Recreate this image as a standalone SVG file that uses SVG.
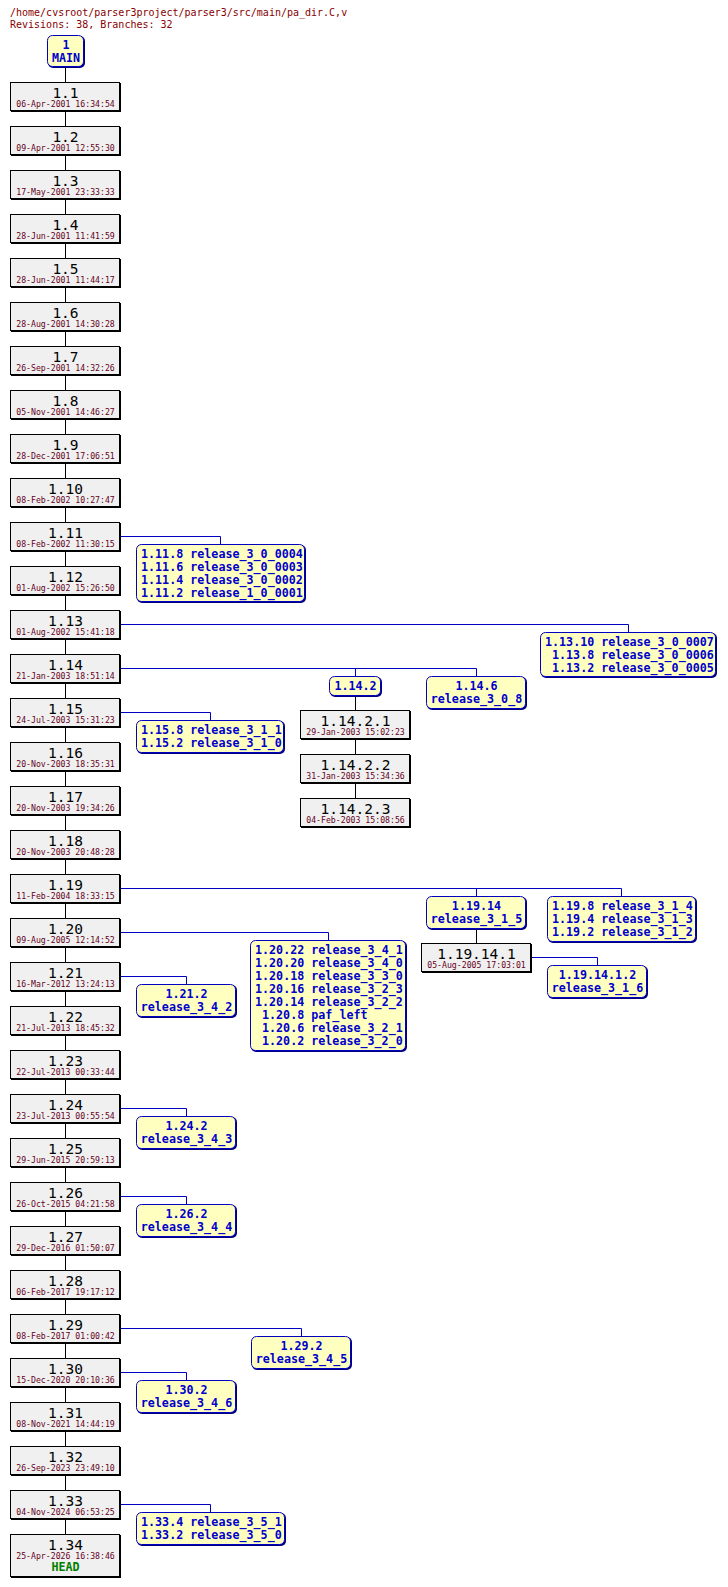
<svg xmlns="http://www.w3.org/2000/svg" width="728" height="1587" viewBox="0 0 728 1587">
<style>
.sh{fill:#000}
.bx{fill:#f0f0f0;stroke:#000;stroke-width:1}
.bsh{fill:#000080}
.bb{fill:#ffffc0;stroke:#0000c0;stroke-width:1}
.rn{font-family:"DejaVu Sans Mono",monospace;font-size:14.5px;fill:#000;text-anchor:middle}
.dt{font-family:"DejaVu Sans Mono",monospace;font-size:8.2px;fill:#660022;text-anchor:middle}
.bl{font-family:"DejaVu Sans Mono",monospace;font-size:11.7px;font-weight:bold;fill:#0000cc}
.c{text-anchor:middle}
.hd{font-family:"DejaVu Sans Mono",monospace;font-size:11.7px;font-weight:bold;fill:#008000;text-anchor:middle}
.ti{font-family:"DejaVu Sans Mono",monospace;font-size:10px;fill:#880000}
.tr{stroke:#000;stroke-width:1;fill:none}
.bc{stroke:#0000c0;stroke-width:1;fill:none}
</style>
<g id="title">
<text class="ti" x="10" y="16">/home/cvsroot/parser3project/parser3/src/main/pa_dir.C,v</text>
<text class="ti" x="10" y="28">Revisions: 38, Branches: 32</text>
</g>
<g id="connectors">
<path class="tr" d="M65.5,68V1534"/>
<path class="tr" d="M355.5,696V798"/>
<path class="tr" d="M476.5,929V943"/>
<path class="bc" d="M120,536.5H220.5V544"/>
<path class="bc" d="M120,624.5H628.5V632"/>
<path class="bc" d="M120,668.5H476.5V676M355.5,668.5V676"/>
<path class="bc" d="M120,712.5H210.5V720"/>
<path class="bc" d="M120,888.5H621.5V896M476.5,888.5V896"/>
<path class="bc" d="M531,957.5H597.5V965"/>
<path class="bc" d="M120,932.5H328.5V940"/>
<path class="bc" d="M120,976.5H186.5V984"/>
<path class="bc" d="M120,1108.5H186.5V1116"/>
<path class="bc" d="M120,1196.5H186.5V1204"/>
<path class="bc" d="M120,1328.5H301.5V1336"/>
<path class="bc" d="M120,1372.5H186.5V1380"/>
<path class="bc" d="M120,1504.5H210.5V1512"/>
</g>
<g id="main"><rect class="bsh" x="48" y="36" width="37" height="32" rx="5"/><rect class="bb" x="47.5" y="35.5" width="36" height="31" rx="5"/><text class="bl c" x="66" y="49">1</text><text class="bl c" x="66" y="62">MAIN</text></g>
<g id="r1_1"><rect class="sh" x="11" y="83" width="110" height="29"/><rect class="bx" x="10.5" y="82.5" width="109" height="28"/><text class="rn" x="65.5" y="97.5">1.1</text><text class="dt" x="65.5" y="107">06-Apr-2001 16:34:54</text></g>
<g id="r1_2"><rect class="sh" x="11" y="127" width="110" height="29"/><rect class="bx" x="10.5" y="126.5" width="109" height="28"/><text class="rn" x="65.5" y="141.5">1.2</text><text class="dt" x="65.5" y="151">09-Apr-2001 12:55:30</text></g>
<g id="r1_3"><rect class="sh" x="11" y="171" width="110" height="29"/><rect class="bx" x="10.5" y="170.5" width="109" height="28"/><text class="rn" x="65.5" y="185.5">1.3</text><text class="dt" x="65.5" y="195">17-May-2001 23:33:33</text></g>
<g id="r1_4"><rect class="sh" x="11" y="215" width="110" height="29"/><rect class="bx" x="10.5" y="214.5" width="109" height="28"/><text class="rn" x="65.5" y="229.5">1.4</text><text class="dt" x="65.5" y="239">28-Jun-2001 11:41:59</text></g>
<g id="r1_5"><rect class="sh" x="11" y="259" width="110" height="29"/><rect class="bx" x="10.5" y="258.5" width="109" height="28"/><text class="rn" x="65.5" y="273.5">1.5</text><text class="dt" x="65.5" y="283">28-Jun-2001 11:44:17</text></g>
<g id="r1_6"><rect class="sh" x="11" y="303" width="110" height="29"/><rect class="bx" x="10.5" y="302.5" width="109" height="28"/><text class="rn" x="65.5" y="317.5">1.6</text><text class="dt" x="65.5" y="327">28-Aug-2001 14:30:28</text></g>
<g id="r1_7"><rect class="sh" x="11" y="347" width="110" height="29"/><rect class="bx" x="10.5" y="346.5" width="109" height="28"/><text class="rn" x="65.5" y="361.5">1.7</text><text class="dt" x="65.5" y="371">26-Sep-2001 14:32:26</text></g>
<g id="r1_8"><rect class="sh" x="11" y="391" width="110" height="29"/><rect class="bx" x="10.5" y="390.5" width="109" height="28"/><text class="rn" x="65.5" y="405.5">1.8</text><text class="dt" x="65.5" y="415">05-Nov-2001 14:46:27</text></g>
<g id="r1_9"><rect class="sh" x="11" y="435" width="110" height="29"/><rect class="bx" x="10.5" y="434.5" width="109" height="28"/><text class="rn" x="65.5" y="449.5">1.9</text><text class="dt" x="65.5" y="459">28-Dec-2001 17:06:51</text></g>
<g id="r1_10"><rect class="sh" x="11" y="479" width="110" height="29"/><rect class="bx" x="10.5" y="478.5" width="109" height="28"/><text class="rn" x="65.5" y="493.5">1.10</text><text class="dt" x="65.5" y="503">08-Feb-2002 10:27:47</text></g>
<g id="r1_11"><rect class="sh" x="11" y="523" width="110" height="29"/><rect class="bx" x="10.5" y="522.5" width="109" height="28"/><text class="rn" x="65.5" y="537.5">1.11</text><text class="dt" x="65.5" y="547">08-Feb-2002 11:30:15</text></g>
<g id="r1_12"><rect class="sh" x="11" y="567" width="110" height="29"/><rect class="bx" x="10.5" y="566.5" width="109" height="28"/><text class="rn" x="65.5" y="581.5">1.12</text><text class="dt" x="65.5" y="591">01-Aug-2002 15:26:50</text></g>
<g id="r1_13"><rect class="sh" x="11" y="611" width="110" height="29"/><rect class="bx" x="10.5" y="610.5" width="109" height="28"/><text class="rn" x="65.5" y="625.5">1.13</text><text class="dt" x="65.5" y="635">01-Aug-2002 15:41:18</text></g>
<g id="r1_14"><rect class="sh" x="11" y="655" width="110" height="29"/><rect class="bx" x="10.5" y="654.5" width="109" height="28"/><text class="rn" x="65.5" y="669.5">1.14</text><text class="dt" x="65.5" y="679">21-Jan-2003 18:51:14</text></g>
<g id="r1_15"><rect class="sh" x="11" y="699" width="110" height="29"/><rect class="bx" x="10.5" y="698.5" width="109" height="28"/><text class="rn" x="65.5" y="713.5">1.15</text><text class="dt" x="65.5" y="723">24-Jul-2003 15:31:23</text></g>
<g id="r1_16"><rect class="sh" x="11" y="743" width="110" height="29"/><rect class="bx" x="10.5" y="742.5" width="109" height="28"/><text class="rn" x="65.5" y="757.5">1.16</text><text class="dt" x="65.5" y="767">20-Nov-2003 18:35:31</text></g>
<g id="r1_17"><rect class="sh" x="11" y="787" width="110" height="29"/><rect class="bx" x="10.5" y="786.5" width="109" height="28"/><text class="rn" x="65.5" y="801.5">1.17</text><text class="dt" x="65.5" y="811">20-Nov-2003 19:34:26</text></g>
<g id="r1_18"><rect class="sh" x="11" y="831" width="110" height="29"/><rect class="bx" x="10.5" y="830.5" width="109" height="28"/><text class="rn" x="65.5" y="845.5">1.18</text><text class="dt" x="65.5" y="855">20-Nov-2003 20:48:28</text></g>
<g id="r1_19"><rect class="sh" x="11" y="875" width="110" height="29"/><rect class="bx" x="10.5" y="874.5" width="109" height="28"/><text class="rn" x="65.5" y="889.5">1.19</text><text class="dt" x="65.5" y="899">11-Feb-2004 18:33:15</text></g>
<g id="r1_20"><rect class="sh" x="11" y="919" width="110" height="29"/><rect class="bx" x="10.5" y="918.5" width="109" height="28"/><text class="rn" x="65.5" y="933.5">1.20</text><text class="dt" x="65.5" y="943">09-Aug-2005 12:14:52</text></g>
<g id="r1_21"><rect class="sh" x="11" y="963" width="110" height="29"/><rect class="bx" x="10.5" y="962.5" width="109" height="28"/><text class="rn" x="65.5" y="977.5">1.21</text><text class="dt" x="65.5" y="987">16-Mar-2012 13:24:13</text></g>
<g id="r1_22"><rect class="sh" x="11" y="1007" width="110" height="29"/><rect class="bx" x="10.5" y="1006.5" width="109" height="28"/><text class="rn" x="65.5" y="1021.5">1.22</text><text class="dt" x="65.5" y="1031">21-Jul-2013 18:45:32</text></g>
<g id="r1_23"><rect class="sh" x="11" y="1051" width="110" height="29"/><rect class="bx" x="10.5" y="1050.5" width="109" height="28"/><text class="rn" x="65.5" y="1065.5">1.23</text><text class="dt" x="65.5" y="1075">22-Jul-2013 00:33:44</text></g>
<g id="r1_24"><rect class="sh" x="11" y="1095" width="110" height="29"/><rect class="bx" x="10.5" y="1094.5" width="109" height="28"/><text class="rn" x="65.5" y="1109.5">1.24</text><text class="dt" x="65.5" y="1119">23-Jul-2013 00:55:54</text></g>
<g id="r1_25"><rect class="sh" x="11" y="1139" width="110" height="29"/><rect class="bx" x="10.5" y="1138.5" width="109" height="28"/><text class="rn" x="65.5" y="1153.5">1.25</text><text class="dt" x="65.5" y="1163">29-Jun-2015 20:59:13</text></g>
<g id="r1_26"><rect class="sh" x="11" y="1183" width="110" height="29"/><rect class="bx" x="10.5" y="1182.5" width="109" height="28"/><text class="rn" x="65.5" y="1197.5">1.26</text><text class="dt" x="65.5" y="1207">26-Oct-2015 04:21:58</text></g>
<g id="r1_27"><rect class="sh" x="11" y="1227" width="110" height="29"/><rect class="bx" x="10.5" y="1226.5" width="109" height="28"/><text class="rn" x="65.5" y="1241.5">1.27</text><text class="dt" x="65.5" y="1251">29-Dec-2016 01:50:07</text></g>
<g id="r1_28"><rect class="sh" x="11" y="1271" width="110" height="29"/><rect class="bx" x="10.5" y="1270.5" width="109" height="28"/><text class="rn" x="65.5" y="1285.5">1.28</text><text class="dt" x="65.5" y="1295">06-Feb-2017 19:17:12</text></g>
<g id="r1_29"><rect class="sh" x="11" y="1315" width="110" height="29"/><rect class="bx" x="10.5" y="1314.5" width="109" height="28"/><text class="rn" x="65.5" y="1329.5">1.29</text><text class="dt" x="65.5" y="1339">08-Feb-2017 01:00:42</text></g>
<g id="r1_30"><rect class="sh" x="11" y="1359" width="110" height="29"/><rect class="bx" x="10.5" y="1358.5" width="109" height="28"/><text class="rn" x="65.5" y="1373.5">1.30</text><text class="dt" x="65.5" y="1383">15-Dec-2020 20:10:36</text></g>
<g id="r1_31"><rect class="sh" x="11" y="1403" width="110" height="29"/><rect class="bx" x="10.5" y="1402.5" width="109" height="28"/><text class="rn" x="65.5" y="1417.5">1.31</text><text class="dt" x="65.5" y="1427">08-Nov-2021 14:44:19</text></g>
<g id="r1_32"><rect class="sh" x="11" y="1447" width="110" height="29"/><rect class="bx" x="10.5" y="1446.5" width="109" height="28"/><text class="rn" x="65.5" y="1461.5">1.32</text><text class="dt" x="65.5" y="1471">26-Sep-2023 23:49:10</text></g>
<g id="r1_33"><rect class="sh" x="11" y="1491" width="110" height="29"/><rect class="bx" x="10.5" y="1490.5" width="109" height="28"/><text class="rn" x="65.5" y="1505.5">1.33</text><text class="dt" x="65.5" y="1515">04-Nov-2024 06:53:25</text></g>
<g id="r1_34"><rect class="sh" x="11" y="1535" width="110" height="43"/><rect class="bx" x="10.5" y="1534.5" width="109" height="42"/><text class="rn" x="65.5" y="1549.5">1.34</text><text class="dt" x="65.5" y="1559">25-Apr-2026 16:38:46</text><text class="hd" x="65.5" y="1571">HEAD</text></g>
<g id="r1_14_2_1"><rect class="sh" x="301" y="711" width="110" height="29"/><rect class="bx" x="300.5" y="710.5" width="109" height="28"/><text class="rn" x="355.5" y="725.5">1.14.2.1</text><text class="dt" x="355.5" y="735">29-Jan-2003 15:02:23</text></g>
<g id="r1_14_2_2"><rect class="sh" x="301" y="755" width="110" height="29"/><rect class="bx" x="300.5" y="754.5" width="109" height="28"/><text class="rn" x="355.5" y="769.5">1.14.2.2</text><text class="dt" x="355.5" y="779">31-Jan-2003 15:34:36</text></g>
<g id="r1_14_2_3"><rect class="sh" x="301" y="799" width="110" height="29"/><rect class="bx" x="300.5" y="798.5" width="109" height="28"/><text class="rn" x="355.5" y="813.5">1.14.2.3</text><text class="dt" x="355.5" y="823">04-Feb-2003 15:08:56</text></g>
<g id="r1_19_14_1"><rect class="sh" x="422" y="944" width="110" height="29"/><rect class="bx" x="421.5" y="943.5" width="109" height="28"/><text class="rn" x="476.5" y="958.5">1.19.14.1</text><text class="dt" x="476.5" y="968">05-Aug-2005 17:03:01</text></g>
<g id="b1_11"><rect class="bsh" x="137" y="545" width="169" height="58" rx="5"/><rect class="bb" x="136.5" y="544.5" width="168" height="57" rx="5"/><text class="bl" x="141" y="558">1.11.8 release_3_0_0004</text><text class="bl" x="141" y="571">1.11.6 release_3_0_0003</text><text class="bl" x="141" y="584">1.11.4 release_3_0_0002</text><text class="bl" x="141" y="597">1.11.2 release_1_0_0001</text></g>
<g id="b1_13"><rect class="bsh" x="541" y="633" width="176" height="45" rx="5"/><rect class="bb" x="540.5" y="632.5" width="175" height="44" rx="5"/><text class="bl" x="545" y="646">1.13.10 release_3_0_0007</text><text class="bl" x="552" y="659">1.13.8 release_3_0_0006</text><text class="bl" x="552" y="672">1.13.2 release_3_0_0005</text></g>
<g id="b1_14_2"><rect class="bsh" x="330" y="677" width="52" height="20" rx="5"/><rect class="bb" x="329.5" y="676.5" width="51" height="19" rx="5"/><text class="bl c" x="355.5" y="690">1.14.2</text></g>
<g id="b1_14_6"><rect class="bsh" x="427" y="677" width="100" height="33" rx="5"/><rect class="bb" x="426.5" y="676.5" width="99" height="32" rx="5"/><text class="bl c" x="476.5" y="690">1.14.6</text><text class="bl c" x="476.5" y="703">release_3_0_8</text></g>
<g id="b1_15"><rect class="bsh" x="137" y="721" width="148" height="33" rx="5"/><rect class="bb" x="136.5" y="720.5" width="147" height="32" rx="5"/><text class="bl" x="141" y="734">1.15.8 release_3_1_1</text><text class="bl" x="141" y="747">1.15.2 release_3_1_0</text></g>
<g id="b1_19_14"><rect class="bsh" x="427" y="897" width="100" height="33" rx="5"/><rect class="bb" x="426.5" y="896.5" width="99" height="32" rx="5"/><text class="bl c" x="476.5" y="910">1.19.14</text><text class="bl c" x="476.5" y="923">release_3_1_5</text></g>
<g id="b1_19_8"><rect class="bsh" x="548" y="897" width="149" height="46" rx="5"/><rect class="bb" x="547.5" y="896.5" width="148" height="45" rx="5"/><text class="bl" x="552" y="910">1.19.8 release_3_1_4</text><text class="bl" x="552" y="923">1.19.4 release_3_1_3</text><text class="bl" x="552" y="936">1.19.2 release_3_1_2</text></g>
<g id="b1_19_14_1_2"><rect class="bsh" x="548" y="966" width="100" height="33" rx="5"/><rect class="bb" x="547.5" y="965.5" width="99" height="32" rx="5"/><text class="bl c" x="597.5" y="979">1.19.14.1.2</text><text class="bl c" x="597.5" y="992">release_3_1_6</text></g>
<g id="b1_20"><rect class="bsh" x="251" y="941" width="156" height="111" rx="5"/><rect class="bb" x="250.5" y="940.5" width="155" height="110" rx="5"/><text class="bl" x="255" y="954">1.20.22 release_3_4_1</text><text class="bl" x="255" y="967">1.20.20 release_3_4_0</text><text class="bl" x="255" y="980">1.20.18 release_3_3_0</text><text class="bl" x="255" y="993">1.20.16 release_3_2_3</text><text class="bl" x="255" y="1006">1.20.14 release_3_2_2</text><text class="bl" x="262" y="1019">1.20.8 paf_left</text><text class="bl" x="262" y="1032">1.20.6 release_3_2_1</text><text class="bl" x="262" y="1045">1.20.2 release_3_2_0</text></g>
<g id="b1_21"><rect class="bsh" x="137" y="985" width="100" height="33" rx="5"/><rect class="bb" x="136.5" y="984.5" width="99" height="32" rx="5"/><text class="bl c" x="186.5" y="998">1.21.2</text><text class="bl c" x="186.5" y="1011">release_3_4_2</text></g>
<g id="b1_24"><rect class="bsh" x="137" y="1117" width="100" height="33" rx="5"/><rect class="bb" x="136.5" y="1116.5" width="99" height="32" rx="5"/><text class="bl c" x="186.5" y="1130">1.24.2</text><text class="bl c" x="186.5" y="1143">release_3_4_3</text></g>
<g id="b1_26"><rect class="bsh" x="137" y="1205" width="100" height="33" rx="5"/><rect class="bb" x="136.5" y="1204.5" width="99" height="32" rx="5"/><text class="bl c" x="186.5" y="1218">1.26.2</text><text class="bl c" x="186.5" y="1231">release_3_4_4</text></g>
<g id="b1_29"><rect class="bsh" x="252" y="1337" width="100" height="33" rx="5"/><rect class="bb" x="251.5" y="1336.5" width="99" height="32" rx="5"/><text class="bl c" x="301.5" y="1350">1.29.2</text><text class="bl c" x="301.5" y="1363">release_3_4_5</text></g>
<g id="b1_30"><rect class="bsh" x="137" y="1381" width="100" height="33" rx="5"/><rect class="bb" x="136.5" y="1380.5" width="99" height="32" rx="5"/><text class="bl c" x="186.5" y="1394">1.30.2</text><text class="bl c" x="186.5" y="1407">release_3_4_6</text></g>
<g id="b1_33"><rect class="bsh" x="137" y="1513" width="149" height="33" rx="5"/><rect class="bb" x="136.5" y="1512.5" width="148" height="32" rx="5"/><text class="bl" x="141" y="1526">1.33.4 release_3_5_1</text><text class="bl" x="141" y="1539">1.33.2 release_3_5_0</text></g>
</svg>
